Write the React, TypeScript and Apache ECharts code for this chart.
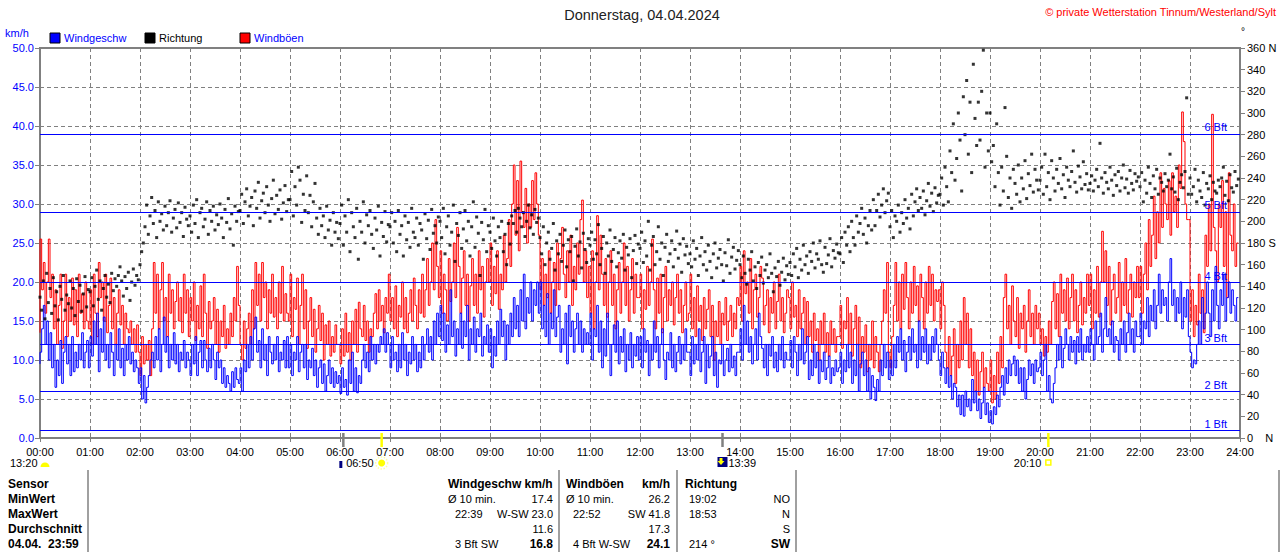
import React, { useEffect, useRef } from "react";
import * as echarts from "echarts";

// sampling step of the series, in minutes (30 values per hour)
const STEP_MIN = 2;

// Windgeschwindigkeit km/h (blue)
const windSpeed = [
  9.5, 11, 14, 17, 12, 15, 10, 13.5, 9, 12, 6.5, 10, 8, 12.5, 7, 11, 13, 9.5, 12, 8, 13, 8.5, 11, 9, 12, 10, 13.5, 9, 11, 12.5, // 00
  9, 13, 10.5, 15, 12, 16, 8.5, 14, 11, 15.5, 10, 12, 9, 13.5, 11, 8, 12, 10, 14, 9, 11.5, 8, 12, 10, 13, 9.5, 11, 8.5, 10, 9, // 01
  7, 9, 5, 8, 4.5, 6.5, 8, 10, 11, 9, 13, 10, 14, 8.5, 12, 15.5, 11, 13, 9, 12, 10, 13.5, 9.5, 12, 8.5, 11, 10, 12.5, 9, 11, // 02
  10, 8, 12, 9.5, 13, 8, 11, 12.5, 9, 12.5, 10, 8.5, 11.5, 9, 12, 10, 7.5, 11, 9, 10, 7, 9, 6.5, 8, 7, 6, 8.5, 6.5, 9, 7.5, // 03
  7, 9, 6, 10, 8.5, 12, 9, 13, 10, 14, 15.5, 11, 12.5, 9, 14, 10, 12, 8, 13, 11, 9.5, 12, 10, 13, 8.5, 11, 10, 12.5, 9, 13, // 04
  9, 12, 8, 11, 10, 13, 8.5, 11, 12, 9, 12, 7.5, 10, 9, 11.5, 8, 10, 6.5, 9, 10, 7, 9.5, 6, 8, 10, 7, 9, 6.5, 8.5, 7, // 05
  8, 5.7, 9, 6.5, 7.5, 5.5, 10, 7, 11, 6, 9, 5.8, 8, 7, 10, 12, 9, 11, 8.5, 13, 10, 12, 9.5, 12, 11, 13, 12, 14, 11, 13.5, // 06
  12, 9, 13, 10, 11, 8.5, 12, 9, 13.5, 10, 12, 8, 11, 9.5, 13, 10, 12, 8.5, 11, 9, 13, 10, 12, 14, 11, 13, 10, 15, 12, 16, // 07
  13, 17, 12.5, 16, 11, 14.5, 12, 19, 13, 15, 10.5, 14, 12, 16, 11.5, 15, 13, 17, 10, 14, 12, 15.5, 11, 14, 13, 16, 10.5, 13, 12, 14.5, // 08
  11, 14, 9, 13, 10.5, 15, 12, 16.5, 13, 15, 10, 14.5, 12, 16, 13, 18, 14, 17, 13, 19, 15, 21, 14, 18, 16, 20, 15, 19, 17, 20, // 09
  16, 20, 14, 17, 13, 18.5, 12, 16, 14, 19, 13, 15.5, 17, 11, 14, 12, 16, 9.5, 17, 13, 15, 11, 14, 16, 12, 15, 11, 14, 12, 13.5, // 10
  12, 16, 10, 14, 13, 17, 11, 15, 9, 14, 10.5, 16, 12, 8, 12, 14.5, 11, 15, 9.5, 13, 11, 14, 8.5, 12, 10, 13.5, 9, 12, 10.5, 13, // 11
  10, 13, 9, 14, 11, 12.5, 8, 12, 10, 15, 11, 13, 9, 12, 14, 10, 7.5, 11, 10, 13.5, 9, 12, 8.5, 11, 13, 9.5, 12, 10, 14, 11, // 12
  11, 8, 13, 9.5, 12, 10, 14, 8.5, 11, 13, 7, 12, 9, 10.5, 13, 8, 11, 6.5, 10, 9.5, 12, 8, 10, 11.5, 8.5, 12, 9, 10.5, 8, 11, // 13
  11, 14, 10, 17, 12, 15, 11, 13, 9.5, 12, 14, 10, 16, 13, 11.5, 9, 12, 8, 12, 10.5, 13, 9, 11, 8.5, 12, 10, 13, 9, 11, 10, // 14
  10, 12.5, 9, 13, 11, 8, 12, 10, 14, 9.5, 11, 13, 7.5, 10, 8, 12, 9, 11, 7, 10, 8.5, 11, 7.5, 9, 10.5, 7, 9, 8, 10, 8.5, // 15
  9, 11, 7, 10, 8.5, 12, 9, 11, 7, 10, 8, 12, 6, 9.5, 11, 8, 10, 6, 9, 5, 8, 6.5, 4.8, 7.5, 6, 10, 8, 12, 9, 11, // 16
  7.5, 10, 8, 12, 9, 13, 11, 14, 10, 12.5, 8.5, 11, 13, 10, 14, 11, 12, 9, 15, 10, 13, 11, 14, 9.5, 12, 10, 13, 11, 14, 12, // 17
  10, 8, 11, 9, 7, 9, 6.5, 8, 5, 7, 6.5, 4, 5.5, 3, 5.5, 2.8, 6, 4, 5, 3.5, 7.5, 4.5, 6, 3.5, 5, 2.5, 4.5, 6.5, 3, 4.5, // 18
  2, 3.5, 1.8, 4, 3, 5.5, 4, 6.5, 8, 5.5, 9, 7, 10, 8, 9.5, 10.5, 8, 10, 7, 9, 6, 9, 5, 7.5, 10, 8, 9.5, 7, 10, 8.5, // 19
  9, 11, 8, 10, 12, 6, 8, 5, 4.5, 7, 9, 12, 10, 13, 9, 11.5, 14, 12, 10, 13, 11, 12.5, 9.5, 13, 11, 14, 10, 12, 11, 13, // 20
  11, 14, 12, 10, 15, 12, 13, 16, 11, 14, 18, 13, 14, 12, 15, 11, 13, 12.5, 10, 14, 12, 15, 11, 13.5, 16, 12, 14, 11, 15, 13, // 21
  13, 16, 12, 15, 14, 18, 13, 17, 15, 19, 14, 17, 21, 16, 19, 17, 18, 15, 20, 23, 17, 19, 15, 18, 16, 20, 14, 18, 15.5, 19, // 22
  13, 11, 9, 10, 9.5, 12, 15, 12, 18, 14, 16, 20, 16, 13, 19, 15, 22, 17, 14, 19, 17, 21, 15, 18, 20, 16, 19, 17, 15, 18, // 23
];

// Windböen km/h (red)
const windGust = [
  13.5, 25.5, 19, 22.5, 16, 20, 25.5, 18, 21, 14, 19, 12, 17, 21, 11.5, 15, 21, 13, 18, 15, 20.5, 14.5, 19, 13, 21, 16, 18.5, 14, 20, 15, // 00
  14, 19, 12, 21, 16, 13, 22.5, 18, 20, 15, 21, 13.5, 17, 20.5, 14, 18, 12, 16, 19, 14.5, 17, 12, 16, 14, 13.5, 15, 12, 14, 11, 14.5, // 01
  11, 8, 13, 9.5, 12, 10, 12.5, 8, 14, 22.5, 16, 21, 14, 19, 22.5, 15, 18, 13, 21, 16, 19, 14, 17.5, 20, 15, 18, 13.5, 21, 16, 19, // 02
  13, 18, 15, 20, 12.5, 17, 14, 19.5, 13, 21, 16, 11.5, 17.5, 14, 15, 18, 12, 16.5, 11, 15, 13, 17, 11.5, 14, 12, 16, 13, 18, 15, 22, // 03
  17, 12, 10, 15, 11.5, 14, 16, 12, 19, 14, 22.5, 17, 21, 15, 22.5, 18, 20, 14, 19, 16, 21, 15.5, 18, 14, 20, 16, 22, 15, 18.5, 16, // 04
  15, 21, 13, 18, 16.5, 20.5, 12, 17, 21, 14, 19, 11.5, 15, 18, 13, 16.5, 11, 14, 17, 12.5, 16, 10, 14.5, 12, 15, 10.5, 13, 11, 14.5, 12, // 05
  12, 9.5, 14, 10.5, 16, 11, 13.5, 10, 15, 12, 16.5, 11, 17.4, 14, 13, 17, 12.5, 15, 11, 14, 13, 16, 18.5, 14, 19, 15, 17, 13.5, 18, 16, // 06
  21, 15, 18, 14, 19.5, 13, 17, 15.5, 20, 14, 18, 13.5, 16, 19, 15, 20.5, 17, 14, 19, 16, 21, 15.5, 19, 23, 17, 20, 25, 19, 28, 22, // 07
  18, 24, 16, 21, 19, 15, 23, 17.5, 20, 25, 18, 27, 22, 16, 20.5, 24, 17, 21, 15, 19.5, 23, 17, 21, 16, 24, 19, 22, 15.5, 20, 23, // 08
  20, 25, 17, 22, 18.5, 24, 16.5, 21, 19, 26, 20, 23, 28, 22, 30, 35, 26, 33, 24, 35.5, 29, 27, 32, 25, 30, 27, 33, 28, 34, 30, // 09
  26, 19, 23, 17, 21, 18, 24, 16, 20, 22.5, 17, 25, 19, 23, 27, 21, 18, 24, 20, 26, 17, 22, 19, 25, 21, 28, 30.5, 20, 24, 18, // 10
  22, 16, 24, 14, 20, 28.5, 19, 26, 21, 17, 23, 15.5, 20, 24, 17, 21, 14, 19, 22.5, 16, 20, 25, 17, 22, 15, 19, 23, 16, 21, 18, // 11
  18, 21, 14, 19, 16.5, 22, 17, 20, 25.5, 19, 14, 20.5, 16, 21, 13.5, 18, 22, 15, 19, 17, 20, 14.5, 18, 21, 16, 19, 13.5, 17, 20, 15, // 12
  16, 21, 14, 18, 13, 19.5, 15, 17, 12.5, 18, 14, 16.5, 19, 13, 17, 10, 15, 13, 17.5, 12, 16, 14.5, 18, 12.5, 15, 17, 13, 16, 14, 18, // 13
  17, 22, 15, 24, 18.5, 20, 16, 23, 14, 19, 21, 15.5, 18, 22, 20.5, 14.5, 17, 19, 13.5, 18, 16, 20, 14, 17.5, 21, 15, 18, 13.5, 16, 19, // 14
  18, 14, 20, 15.5, 17, 13, 19, 14, 16, 18, 12, 17.5, 13, 15, 11, 16, 12.5, 14, 10, 15, 12, 16, 11, 13.5, 10.5, 15, 12, 14, 11, 13, // 15
  13, 17, 11.5, 15, 14, 18, 12, 16, 10.5, 14, 17, 12, 15.5, 9, 13, 11, 14.5, 8.5, 12, 10, 15, 9, 13, 11, 8.5, 12, 15, 19, 16, 22.5, // 16
  11, 9, 13, 17, 22.5, 15, 20, 14, 21, 16.5, 22.5, 18, 14, 20, 16, 22, 17, 19.5, 15, 21, 18, 14, 20, 16, 22, 17, 21, 15, 19, 17.5, // 17
  19, 14, 20, 17, 11, 9, 13, 8, 10.5, 14, 7, 12, 9, 15, 10, 18, 12, 16, 9, 14, 8, 11, 6, 10, 5.5, 8.5, 11, 6.5, 9, 7, // 18
  6, 10, 4.5, 8, 5, 11, 7, 13, 9, 18, 21, 14, 17, 12, 19.5, 15, 13, 18, 11.5, 16, 14, 17, 11, 15, 19, 13, 16, 12, 17, 14, // 19
  16, 12, 14, 10.5, 13, 11, 15, 12, 17.5, 20, 14, 18.5, 13, 21, 16, 19, 15, 20.5, 14, 18, 21, 15, 19, 13.5, 17, 20, 14.5, 18, 16, 21, // 20
  17, 21, 14, 19, 16, 22, 15.5, 20, 26.5, 20, 24, 17, 22, 14.5, 19, 21, 16, 18, 22.5, 15, 20, 17, 23, 16, 19, 21, 15.5, 20, 18, 22, // 21
  18, 22, 16, 21, 25, 19, 28, 22, 26, 31, 23, 29, 25, 34, 27, 32, 30, 28, 33, 26, 34, 29, 31, 27, 35, 32, 41.8, 38, 30, 28, // 22
  28, 15, 19, 13, 17, 14.5, 21, 16, 19, 13.5, 26, 22, 30, 24, 41.5, 27, 24, 20, 30, 27, 33, 22, 29, 18, 34, 26, 24, 30, 22, 25, // 23
];

// Windrichtung in Grad (black dots, right axis)
const windDir = [
  130, 118, 145, 110, 152, 125, 138, 115, 148, 122, 135, 109, 140, 128, 150, 118, 132, 124, 145, 120, 138, 113, 147, 126, 141, 117, 133, 149, 121, 137, // 00
  135, 148, 122, 140, 155, 128, 145, 118, 138, 150, 130, 142, 125, 152, 136, 147, 140, 150, 158, 145, 131, 149, 138, 153, 127, 144, 156, 141, 150, 146, // 01
  160, 172, 180, 195, 215, 188, 205, 222, 198, 210, 185, 218, 200, 207, 192, 214, 196, 208, 219, 190, 203, 211, 194, 217, 199, 208, 186, 213, 202, 196, // 02
  205, 190, 215, 198, 220, 185, 208, 212, 195, 202, 218, 188, 210, 200, 214, 192, 206, 197, 216, 203, 185, 211, 199, 221, 193, 207, 178, 214, 200, 209, // 03
  210, 225, 198, 218, 230, 205, 214, 222, 196, 228, 212, 236, 203, 219, 226, 208, 232, 215, 200, 221, 238, 207, 224, 211, 229, 202, 217, 233, 209, 220, // 04
  220, 246, 205, 232, 215, 250, 238, 199, 225, 210, 242, 208, 224, 195, 218, 235, 203, 188, 212, 196, 205, 185, 214, 192, 201, 178, 208, 190, 199, 184, // 05
  198, 215, 178, 205, 190, 220, 172, 208, 195, 185, 212, 165, 200, 190, 218, 180, 206, 196, 210, 188, 175, 203, 192, 214, 168, 199, 186, 209, 181, 197, // 06
  195, 208, 180, 200, 172, 210, 188, 196, 168, 205, 183, 199, 176, 212, 190, 185, 203, 178, 198, 192, 165, 207, 184, 201, 174, 211, 189, 196, 180, 204, // 07
  200, 185, 212, 170, 195, 205, 178, 190, 215, 163, 198, 187, 208, 175, 193, 210, 182, 200, 168, 195, 218, 176, 204, 189, 150, 199, 183, 211, 172, 196, // 08
  190, 175, 203, 182, 168, 195, 185, 200, 172, 188, 160, 198, 179, 205, 198, 210, 190, 212, 203, 195, 208, 186, 200, 215, 194, 206, 188, 211, 199, 203, // 09
  185, 170, 195, 160, 180, 190, 165, 175, 198, 155, 182, 170, 188, 163, 178, 192, 158, 183, 172, 186, 145, 177, 193, 168, 181, 157, 189, 174, 162, 184, // 10
  178, 190, 165, 183, 170, 197, 160, 175, 186, 152, 180, 168, 192, 163, 174, 185, 158, 171, 182, 166, 188, 155, 176, 169, 184, 148, 173, 187, 161, 179, // 11
  175, 190, 162, 182, 168, 200, 155, 178, 186, 160, 172, 195, 165, 180, 150, 176, 188, 163, 170, 182, 158, 174, 191, 166, 179, 153, 184, 169, 177, 161, // 12
  170, 158, 182, 165, 175, 150, 168, 185, 160, 172, 155, 178, 163, 148, 170, 180, 157, 166, 174, 160, 145, 171, 159, 183, 152, 167, 176, 156, 164, 173, // 13
  160, 148, 168, 152, 142, 165, 155, 172, 145, 158, 138, 162, 150, 167, 143, 155, 160, 148, 170, 152, 135, 157, 149, 163, 141, 153, 166, 146, 159, 151, // 14
  162, 150, 170, 158, 175, 148, 165, 155, 178, 160, 168, 152, 172, 163, 180, 157, 170, 165, 182, 160, 153, 176, 161, 169, 184, 158, 173, 166, 179, 171, // 15
  170, 185, 162, 190, 178, 195, 172, 200, 185, 178, 205, 190, 198, 212, 188, 203, 180, 196, 210, 192, 220, 196, 210, 225, 204, 215, 230, 208, 219, 226, // 16
  195, 210, 185, 205, 200, 215, 190, 208, 198, 220, 203, 212, 193, 225, 205, 218, 230, 210, 222, 212, 228, 206, 219, 235, 214, 226, 209, 231, 217, 224, // 17
  225, 240, 215, 250, 232, 218, 265, 245, 290, 238, 258, 300, 275, 228, 315, 280, 330, 262, 310, 245, 345, 295, 270, 310, 275, 320, 358, 250, 300, 265, // 18
  300, 255, 270, 232, 290, 245, 215, 250, 228, 305, 260, 222, 240, 212, 248, 235, 225, 252, 218, 240, 230, 256, 221, 244, 233, 262, 227, 248, 238, 229, // 19
  238, 250, 225, 262, 232, 245, 220, 256, 240, 228, 248, 235, 258, 230, 243, 222, 250, 238, 232, 246, 265, 236, 227, 251, 241, 230, 255, 234, 244, 229, // 20
  235, 242, 228, 238, 248, 232, 272, 240, 226, 245, 236, 230, 250, 238, 224, 243, 233, 246, 228, 240, 252, 231, 239, 226, 247, 235, 229, 244, 237, 241, // 21
  232, 245, 218, 238, 226, 250, 235, 222, 242, 230, 248, 225, 240, 236, 228, 244, 232, 238, 262, 230, 241, 227, 249, 220, 236, 243, 231, 246, 314, 225, // 22
  240, 225, 232, 248, 218, 238, 228, 222, 245, 215, 235, 230, 242, 220, 236, 228, 226, 238, 232, 240, 250, 224, 237, 219, 243, 231, 227, 246, 233, 239, // 23
];

// Beaufort thresholds km/h
const bftLevels = [1, 6, 12, 20, 29, 39];
const bftLabels = ["1 Bft", "2 Bft", "3 Bft", "4 Bft", "5 Bft", "6 Bft"];

// astronomical events (minutes of the day)
const moonRiseMin = 6 * 60 + 4;
const sunRiseMin = 6 * 60 + 50;
const moonSetMin = 13 * 60 + 39;
const sunSetMin = 20 * 60 + 10;
const prevMoonLabel = "13:20";
const sunRiseLabel = "06:50";
const moonSetLabel = "13:39";
const sunSetLabel = "20:10";

const titleText = "Donnerstag, 04.04.2024";
const copyrightText = "© private Wetterstation Tinnum/Westerland/Sylt";

const legendNames = ["Windgeschw", "Richtung", "Windböen"];
const legendColors = ["#0000ff", "#000000", "#ff0000"];
const legendTextColors = ["#0000ff", "#000000", "#0000ff"];

const tableRowLabels = ["Sensor", "MinWert", "MaxWert", "Durchschnitt", "04.04.  23:59"];
const speedHeader = "Windgeschw km/h";
const speedLeft = ["Ø 10 min.", "22:39", "", "3 Bft SW"];
const speedRight = ["17.4", "W-SW 23.0", "11.6", "16.8"];
const gustHeader = ["Windböen", "km/h"];
const gustLeft = ["Ø 10 min.", "22:52", "", "4 Bft W-SW"];
const gustRight = ["26.2", "SW 41.8", "17.3", "24.1"];
const dirHeader = "Richtung";
const dirLeft = ["19:02", "18:53", "", "214 °"];
const dirRight = ["NO", "N", "S", "SW"];

const FONT = "'Liberation Sans', Arial, Helvetica, sans-serif";
const GRAY = "#808080";

const toPairs = (arr: number[]) => arr.map((v, i) => [i * STEP_MIN, v]);

const pad2 = (n: number) => (n < 10 ? "0" + n : String(n));

function buildOption(): any {
  return {
    animation: false,
    backgroundColor: "#ffffff",
    textStyle: { fontFamily: FONT },
    grid: {
      left: 40,
      right: 40,
      top: 48,
      bottom: 114,
      show: true,
      borderColor: GRAY,
      borderWidth: 2,
      backgroundColor: "transparent",
    },
    xAxis: {
      type: "value",
      min: 0,
      max: 1440,
      interval: 60,
      axisLine: { show: true, lineStyle: { color: GRAY, width: 2 } },
      axisTick: { show: true, length: 4, lineStyle: { color: GRAY, width: 1 } },
      axisLabel: {
        color: "#000",
        fontSize: 11,
        fontFamily: FONT,
        margin: 8,
        formatter: (v: number) => pad2(Math.round(v / 60)) + ":00",
      },
      splitLine: { show: true, lineStyle: { color: GRAY, type: [4, 3], width: 1 } },
    },
    yAxis: [
      {
        type: "value",
        min: 0,
        max: 50,
        interval: 5,
        position: "left",
        axisLine: { show: true, lineStyle: { color: GRAY, width: 2 } },
        axisTick: { show: true, length: 5, lineStyle: { color: GRAY, width: 1 } },
        axisLabel: {
          color: "#0000ff",
          fontSize: 11,
          fontFamily: FONT,
          margin: 6,
          formatter: (v: number) => v.toFixed(1),
        },
        splitLine: { show: true, lineStyle: { color: GRAY, type: [4, 3], width: 1 } },
      },
      {
        type: "value",
        min: 0,
        max: 360,
        interval: 20,
        position: "right",
        axisLine: { show: true, lineStyle: { color: GRAY, width: 2 } },
        axisTick: { show: true, length: 5, lineStyle: { color: GRAY, width: 1 } },
        axisLabel: {
          color: "#000",
          fontSize: 11,
          fontFamily: FONT,
          margin: 7,
          formatter: (v: number) =>
            v === 360 ? "360 N" : v === 180 ? "180 S" : v === 0 ? "0    N" : String(v),
        },
        splitLine: { show: false },
      },
    ],
    series: [
      {
        name: "Bft",
        type: "line",
        data: [],
        silent: true,
        z: 1,
        markLine: {
          silent: true,
          symbol: ["none", "none"],
          lineStyle: { color: "#0000ff", type: "solid", width: 1 },
          label: {
            show: true,
            position: "insideEndTop",
            formatter: "{b}",
            color: "#0000ff",
            fontSize: 11,
            fontFamily: FONT,
            distance: [13, 1],
          },
          data: bftLevels.map((v, i) => ({ yAxis: v, name: bftLabels[i] })),
        },
      },
      {
        name: "Windböen",
        type: "line",
        step: "start",
        showSymbol: false,
        silent: true,
        z: 2,
        lineStyle: { color: "#ff0000", width: 1 },
        itemStyle: { color: "#ff0000" },
        data: toPairs(windGust),
      },
      {
        name: "Windgeschw",
        type: "line",
        step: "start",
        showSymbol: false,
        silent: true,
        z: 3,
        lineStyle: { color: "#0000ff", width: 1 },
        itemStyle: { color: "#0000ff" },
        data: toPairs(windSpeed),
      },
      {
        name: "Richtung",
        type: "scatter",
        yAxisIndex: 1,
        symbol: "rect",
        symbolSize: 3,
        silent: true,
        z: 4,
        itemStyle: { color: "#000000" },
        data: toPairs(windDir),
      },
    ],
  };
}

function txt(
  text: string,
  x: number,
  y: number,
  opts: { color?: string; size?: number; bold?: boolean; align?: string } = {}
): any {
  return {
    type: "text",
    x,
    y,
    silent: true,
    z: 10,
    style: {
      text,
      fill: opts.color || "#000",
      font: `${opts.bold ? "bold " : ""}${opts.size || 11}px ${FONT}`,
      textAlign: opts.align || "left",
      textVerticalAlign: "middle",
    },
  };
}

function buildGraphic(px: (m: number) => number): any[] {
  const g: any[] = [];
  // title & copyright
  g.push(txt(titleText, 642, 15, { size: 14.5, color: "#222", align: "center" }));
  g.push(txt(copyrightText, 1276, 12, { color: "#ff0000", align: "right" }));
  g.push(txt("°", 1241, 31, { size: 10 }));
  // unit
  g.push(txt("km/h", 5, 33, { color: "#0000ff" }));
  // legend
  const legX = [50, 145, 240];
  legendNames.forEach((n, i) => {
    g.push({
      type: "rect",
      silent: true,
      z: 10,
      shape: { x: legX[i], y: 33, width: 10, height: 10 },
      style: { fill: legendColors[i], stroke: "#000", lineWidth: 1 },
    });
    g.push(txt(n, legX[i] + 14, 38, { color: legendTextColors[i] }));
  });

  // event ticks on the time axis
  const evTick = (m: number, color: string) =>
    g.push({
      type: "line",
      silent: true,
      z: 10,
      shape: { x1: px(m), y1: 433, x2: px(m), y2: 447 },
      style: { stroke: color, lineWidth: 2.5 },
    });
  evTick(moonRiseMin, GRAY);
  evTick(moonSetMin, GRAY);
  evTick(sunRiseMin, "#ffff00");
  evTick(sunSetMin, "#ffff00");

  // previous moon event label (left)
  g.push(txt(prevMoonLabel, 10, 463));
  g.push({
    type: "sector",
    silent: true,
    z: 10,
    shape: { cx: 45, cy: 467, r: 4.5, r0: 0, startAngle: Math.PI, endAngle: Math.PI * 2 },
    style: { fill: "#ffff00" },
  });
  // moonrise icon
  const mr = px(moonRiseMin);
  g.push({
    type: "rect",
    silent: true,
    z: 10,
    shape: { x: mr - 4, y: 461, width: 3, height: 7 },
    style: { fill: "#000080" },
  });
  // sunrise
  const sr = px(sunRiseMin);
  g.push(txt(sunRiseLabel, sr - 8, 463, { align: "right" }));
  g.push({
    type: "circle",
    silent: true,
    z: 10,
    shape: { cx: sr, cy: 463, r: 6 },
    style: { fill: "none", stroke: "#ffffa0", lineWidth: 1.5, lineDash: [1.5, 1.5] },
  });
  g.push({
    type: "circle",
    silent: true,
    z: 11,
    shape: { cx: sr, cy: 463, r: 3.5 },
    style: { fill: "#ffff00" },
  });
  // moonset
  const ms = px(moonSetMin);
  g.push({
    type: "rect",
    silent: true,
    z: 10,
    shape: { x: ms - 5, y: 457, width: 10, height: 10 },
    style: { fill: "#000080" },
  });
  g.push({
    type: "polygon",
    silent: true,
    z: 11,
    shape: {
      points: [
        [ms - 3, 458],
        [ms, 458],
        [ms, 461],
        [ms + 2, 461],
        [ms - 1.5, 465],
        [ms - 5, 461],
        [ms - 3, 461],
      ],
    },
    style: { fill: "#ffff00" },
  });
  g.push(txt(moonSetLabel, ms + 6, 463));
  // sunset
  const ss = px(sunSetMin);
  g.push(txt(sunSetLabel, ss - 7, 463, { align: "right" }));
  g.push({
    type: "rect",
    silent: true,
    z: 10,
    shape: { x: ss - 2.5, y: 460, width: 5, height: 5 },
    style: { fill: "none", stroke: "#ffff00", lineWidth: 1.5 },
  });

  // table
  const rowY = [484, 499, 514, 529, 544];
  [88, 559, 677, 796, 1279].forEach((x) =>
    g.push({
      type: "line",
      silent: true,
      z: 10,
      shape: { x1: x, y1: 470, x2: x, y2: 552 },
      style: { stroke: "#a0a0a0", lineWidth: 2 },
    })
  );
  tableRowLabels.forEach((t, i) => g.push(txt(t, 8, rowY[i], { bold: true, size: 12 })));
  // speed column
  g.push(txt(speedHeader, 448, rowY[0], { bold: true, size: 12 }));
  speedLeft.forEach((t, i) => {
    if (t) g.push(txt(t, i === 0 ? 448 : 455, rowY[i + 1]));
  });
  speedRight.forEach((t, i) =>
    g.push(txt(t, 553, rowY[i + 1], { align: "right", bold: i === 3, size: i === 3 ? 12 : 11 }))
  );
  // gust column
  g.push(txt(gustHeader[0], 566, rowY[0], { bold: true, size: 12 }));
  g.push(txt(gustHeader[1], 670, rowY[0], { bold: true, size: 12, align: "right" }));
  gustLeft.forEach((t, i) => {
    if (t) g.push(txt(t, i === 0 ? 566 : 573, rowY[i + 1]));
  });
  gustRight.forEach((t, i) =>
    g.push(txt(t, 670, rowY[i + 1], { align: "right", bold: i === 3, size: i === 3 ? 12 : 11 }))
  );
  // direction column
  g.push(txt(dirHeader, 685, rowY[0], { bold: true, size: 12 }));
  dirLeft.forEach((t, i) => {
    if (t) g.push(txt(t, 689, rowY[i + 1]));
  });
  dirRight.forEach((t, i) =>
    g.push(txt(t, 790, rowY[i + 1], { align: "right", bold: i === 3, size: i === 3 ? 12 : 11 }))
  );
  return g;
}

export default function App() {
  const ref = useRef<HTMLDivElement>(null);
  useEffect(() => {
    if (!ref.current) return;
    const chart = echarts.init(ref.current, null, { renderer: "svg" });
    chart.setOption(buildOption());
    const px = (m: number) => chart.convertToPixel({ xAxisIndex: 0 }, m) as number;
    chart.setOption({ graphic: buildGraphic(px) });
    return () => chart.dispose();
  }, []);
  return (
    <div
      ref={ref}
      style={{ position: "fixed", left: 0, top: 0, width: 1280, height: 552, background: "#ffffff" }}
    />
  );
}
